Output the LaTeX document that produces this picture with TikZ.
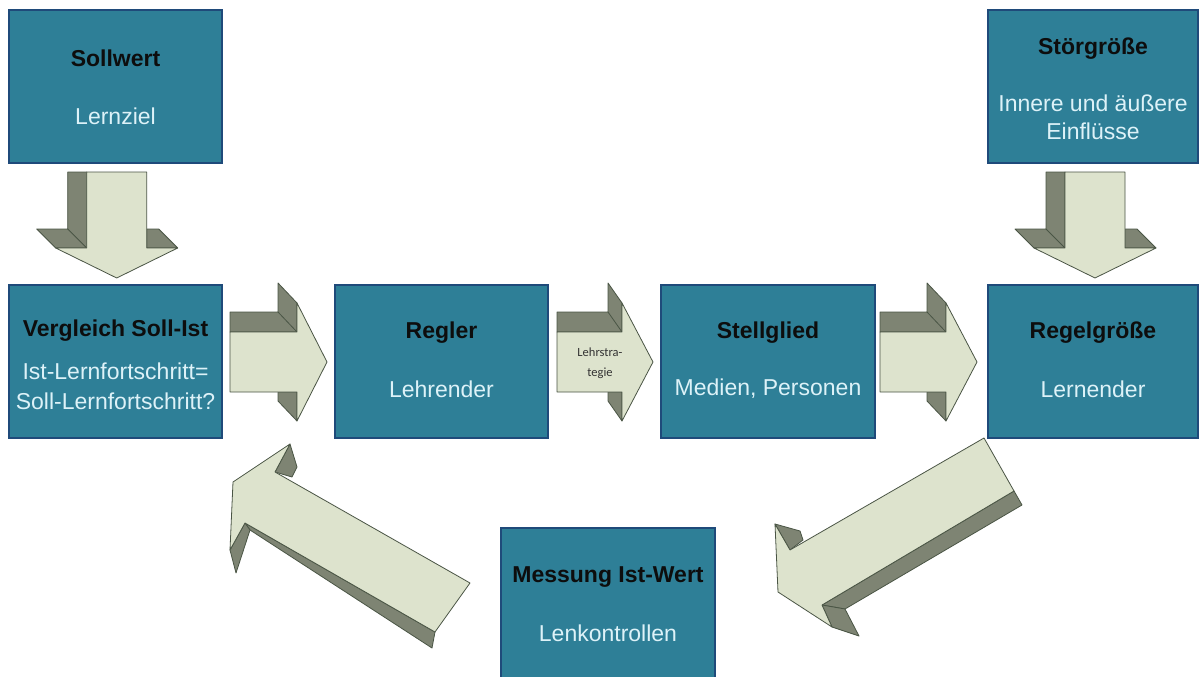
\documentclass[tikz,border=0pt]{standalone}
\usepackage{fontspec}
\setmainfont{Liberation Sans}
\newfontfamily\smallfont{Carlito}
\definecolor{boxfill}{HTML}{2E7F97}
\definecolor{boxline}{HTML}{1F4A7A}
\definecolor{subtxt}{HTML}{DDF2F8}
\definecolor{facecol}{HTML}{DDE3CD}
\definecolor{sidecol}{HTML}{7E8473}
\definecolor{edgecol}{HTML}{4A5545}
% right-pointing block arrow: tail x, head base x, tip x, depth offset
\newcommand\rightblock[4]{%
  \filldraw[side] (#1,312) -- ({#2-#4},312) -- ({#2-#4},283) -- (#2,303) -- (#2,332) -- (#1,332) -- cycle;
  \draw[edge] ({#2-#4},312) -- (#2,332);
  \filldraw[side] ({#2-#4},392) -- ({#2-#4},401) -- (#2,421) -- (#2,392) -- cycle;
  \filldraw[face] (#1,332) -- (#2,332) -- (#2,303) -- (#3,362) -- (#2,421) -- (#2,392) -- (#1,392) -- cycle;
}
% down-pointing block arrow: centre x, depth offset
\newcommand\downblock[2]{%
  \filldraw[side] ({#1-30-#2},172) -- ({#1-30-#2},229) -- ({#1-61-#2},229) -- ({#1-61},248) -- ({#1-30},248) -- ({#1-30},172) -- cycle;
  \draw[edge] ({#1-30-#2},229) -- ({#1-30},248);
  \filldraw[side] ({#1+30},229) -- ({#1+61-#2},229) -- ({#1+61},248) -- ({#1+30},248) -- cycle;
  \filldraw[face] ({#1-30},172) -- ({#1+30},172) -- ({#1+30},248) -- ({#1+61},248) -- (#1,278) -- ({#1-61},248) -- ({#1-30},248) -- cycle;
}
\begin{document}
\begin{tikzpicture}[x=1pt,y=-1pt,
  box/.style={draw=boxline, line width=2pt, fill=boxfill, minimum width=213pt, minimum height=153pt, inner sep=0pt},
  ttl/.style={font=\fontsize{23}{27}\selectfont\bfseries, text=black!95, align=center, inner sep=0pt},
  sub/.style={font=\fontsize{23}{28}\selectfont, text=subtxt, align=center, inner sep=0pt},
  face/.style={fill=facecol, draw=edgecol, line width=0.8pt, line join=round},
  side/.style={fill=sidecol, draw=edgecol, line width=0.8pt, line join=round},
  edge/.style={draw=edgecol, line width=0.8pt}]
\fill[white] (0,0) rectangle (1200,677);
\clip (0,0) rectangle (1200,677);

% ---- block arrows ----
\downblock{116.7}{19}
\downblock{1095}{19}
\rightblock{230}{297}{327}{19}
\rightblock{557}{622}{653}{14}
\rightblock{880}{946}{977}{19}

% down-left arrow (Regelgroesse -> Messung)
\filldraw[side] (822,605) -- (1014,491) -- (1022,505) -- (845,609) -- cycle;
\filldraw[side] (822,605) -- (845,609) -- (859,636) -- (832,627) -- cycle;
\filldraw[side] (775,524) -- (800,531) -- (803,540) -- (790,550) -- cycle;
\filldraw[face] (984,438) -- (1014,491) -- (822,605) -- (832,627) -- (778,592) -- (775,524) -- (790,550) -- cycle;

% up-left arrow (Messung -> Vergleich)
\filldraw[side] (245,523) -- (435,632) -- (432,648) -- (250,530) -- cycle;
\filldraw[side] (230,550) -- (245,523) -- (250,530) -- (236,573) -- cycle;
\filldraw[side] (290,444) -- (297,467) -- (292,477) -- (275,472) -- cycle;
\filldraw[face] (290,444) -- (233,482) -- (230,550) -- (245,523) -- (435,632) -- (470,583) -- (275,472) -- cycle;

\node[font=\smallfont\fontsize{12.5}{20}\selectfont, text=black!80, align=center, inner sep=0pt] (strat) at (600,363) {Lehrstra-\\tegie};

% ---- boxes ----
\node[box] (soll) at (115.5,86.5) {};
\node[box, minimum width=210pt] (stoer) at (1093,86.5) {};
\node[box] (vergl) at (115.5,361.5) {};
\node[box] (regler) at (441.5,361.5) {};
\node[box, minimum width=214pt] (stell) at (768,361.5) {};
\node[box, minimum width=210pt] (regel) at (1093,361.5) {};
\node[box, minimum width=214pt, minimum height=165pt] (mess) at (608,610.5) {};

% ---- texts ----
\node[ttl] (sollT) at (115.5,58) {Sollwert};
\node[sub] (sollS) at (115.5,116) {Lernziel};
\node[ttl] (stoerT) at (1093,49) {Störgröße};
\node[sub] (stoerS) at (1093,117) {Innere und äußere\\Einflüsse};
\node[ttl] (verglT) at (115.5,331) {Vergleich Soll-Ist};
\node[sub, font=\fontsize{23}{30}\selectfont] (verglS) at (115.5,386) {Ist-Lernfortschritt=\\Soll-Lernfortschritt?};
\node[ttl] (reglerT) at (441.5,333) {Regler};
\node[sub] (reglerS) at (441.5,389) {Lehrender};
\node[ttl] (stellT) at (768,333) {Stellglied};
\node[sub] (stellS) at (768,389) {Medien, Personen};
\node[ttl] (regelT) at (1093,333) {Regelgröße};
\node[sub] (regelS) at (1093,389) {Lernender};
\node[ttl] (messT) at (608,577) {Messung Ist-Wert};
\node[sub] (messS) at (608,633) {Lenkontrollen};
\end{tikzpicture}
\end{document}
